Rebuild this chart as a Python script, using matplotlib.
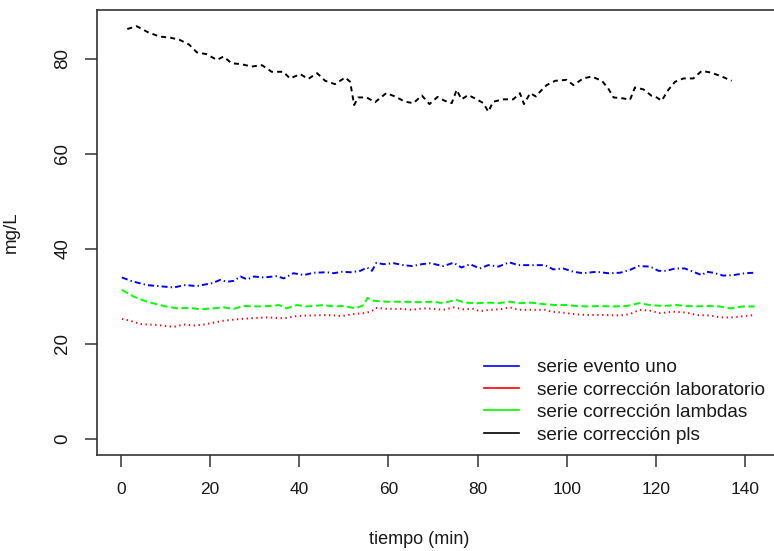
import matplotlib
matplotlib.use("Agg")
import matplotlib.pyplot as plt
from matplotlib.lines import Line2D

# valores (tiempo en min, concentracion en mg/L)
t_uno = [0.2, 2.5, 5.8, 11.8, 14.4, 17, 20.4, 22.3, 23.8, 25.3, 26.8, 28.3, 29.8, 32, 35, 36.5,
         38.7, 41, 43.2, 46.2, 47.7, 49.6, 51.5, 53.7, 55.2, 56.3, 57.3, 58.9, 61.2, 63.4, 65.3,
         67.5, 69.4, 72.3, 74.6, 76.4, 78.3, 80.5, 82.4, 84.7, 87.1, 89.1, 92.5, 95.1, 97, 99.2,
         101.5, 103.7, 106.7, 109.3, 112, 114.2, 116.1, 118.7, 120.6, 122.4, 124.3, 126.5, 128.4,
         130.3, 131.4, 132.9, 135.1, 137.4, 140, 142.2]
uno = [34.0, 33.2, 32.4, 31.9, 32.4, 32.2, 32.8, 33.5, 33.1, 33.3, 34.2, 33.6, 34.2, 34.0, 34.3, 33.8,
       34.9, 34.5, 35.0, 35.1, 34.9, 35.2, 35.1, 35.4, 36.1, 35.4, 37.1, 36.8, 37.0, 36.6, 36.4,
       36.8, 37.0, 36.4, 37.1, 36.1, 36.8, 35.9, 36.6, 36.3, 37.2, 36.6, 36.6, 36.6, 35.7, 35.9,
       35.2, 34.9, 35.2, 34.9, 35.0, 35.6, 36.4, 36.3, 35.4, 35.4, 35.9, 35.9, 35.2,
       34.5, 35.2, 35.0, 34.4, 34.5, 34.9, 35.0]

t_lab = [0.2, 2.1, 4.3, 8.1, 11.8, 14.1, 16.3, 18.6, 20.8, 23, 26, 29, 32.8, 36.5, 39.5, 42.5, 46.2,
         49.6, 52.2, 54.5, 56.3, 57.1, 59.7, 62.7, 65.3, 67.9, 70.2, 72.3, 74.6, 76.8, 79, 80.5,
         82.8, 85, 87.3, 89.1, 91.8, 95.1, 96.6, 99.2, 101.5, 104.5, 108.2, 112, 114.2, 116.3,
         118.7, 121, 123.9, 126.9, 129.2, 132.2, 134.4, 137.4, 140, 142.2]
lab = [25.3, 24.9, 24.2, 24.0, 23.6, 24.1, 23.9, 24.1, 24.5, 24.9, 25.2, 25.4, 25.6, 25.4, 25.9, 26.0, 26.1,
       25.9, 26.3, 26.5, 26.9, 27.6, 27.4, 27.4, 27.2, 27.5, 27.4, 27.2, 27.7, 27.3, 27.4, 26.9,
       27.2, 27.3, 27.7, 27.2, 27.2, 27.2, 26.8, 26.6, 26.3, 26.1, 26.1, 26.0, 26.3, 27.2,
       27.0, 26.5, 26.8, 26.6, 26.1, 26.0, 25.6, 25.6, 25.9, 26.1]

t_lam = [0.2, 2.8, 5.8, 9.6, 12.6, 15.6, 17.8, 20.8, 23, 25.3, 27.5, 30.5, 33.5, 35.4, 37.2, 39.5,
         41.7, 45.5, 47.7, 50, 52.6, 54.5, 55.3, 56.7, 59.7, 63.4, 66.4, 70.1, 72.3, 75.2, 77.2,
         79.8, 82.4, 84.7, 87.3, 89.5, 92.1, 94.8, 97.4, 100, 102.2, 104.5, 107.5, 110.5, 113.5,
         116.3, 118.7, 121.7, 124.7, 126.9, 129.2, 131.4, 134.4, 136.6, 139.6, 142.2]
lam = [31.4, 30.0, 28.9, 28.0, 27.5, 27.6, 27.3, 27.5, 27.7, 27.4, 28.0, 27.9, 28.0, 28.2, 27.5, 28.2,
       27.9, 28.2, 27.9, 28.0, 27.5, 28.2, 29.7, 29.1, 28.9, 28.9, 28.8, 28.9, 28.6, 29.3, 28.7,
       28.6, 28.7, 28.6, 28.9, 28.6, 28.7, 28.4, 28.2, 28.2, 28.0, 27.9, 28.0, 27.9, 28.0,
       28.6, 28.2, 28.0, 28.2, 28.0, 27.9, 28.0, 27.9, 27.5, 27.9, 27.9]

t_pls = [1.4, 3.5, 6.1, 8.7, 11, 13.2, 15.3, 17, 19.2, 21.5, 23, 24.8, 27, 29.3, 31.6, 33.8, 36.4,
         37.9, 40.2, 42, 44, 45.8, 48, 50.3, 51.4, 52.3, 53.2, 55.1, 57, 59.5, 61.5, 63.7, 65.6,
         67.5, 69.2, 71.0, 72.6, 74.2, 75.3, 76.4, 77.9, 79.4, 81.3, 82.4, 83.5, 85.8, 88, 89.5,
         90.4, 91.8, 93.1, 94, 95.5, 97.4, 100, 101.5, 103.7, 105.6, 107.9, 109.3, 110.5, 112.7,
         114.2, 115.3, 117.2, 119.1, 120.2, 121.3, 122.8, 124.3, 126.2, 128.4, 130.3, 132.5,
         134.8, 137]
pls = [86.3, 86.9, 85.6, 84.7, 84.5, 84.0, 83.0, 81.4, 81.0, 79.8, 80.5, 79.1, 78.9, 78.4, 78.7, 77.3, 77.3,
       75.9, 76.8, 75.8, 77.0, 75.4, 74.7, 76.1, 75.2, 70.3, 71.9, 71.9, 70.9, 72.8, 72.1, 71.0, 70.7,
       72.3, 70.5, 72.0, 71.2, 70.7, 73.5, 71.5, 72.4, 71.7, 70.7, 68.9, 71.0, 71.5, 71.5, 72.8,
       70.5, 72.8, 72.1, 73.1, 74.5, 75.4, 75.6, 74.5, 75.9, 76.3, 75.4, 73.8, 71.9, 71.7,
       71.4, 74.0, 73.6, 72.2, 71.9, 71.2, 73.5, 75.2, 75.9, 75.9, 77.5, 77.1,
       76.3, 75.4]

nombres = ["serie evento uno", "serie corrección laboratorio",
           "serie corrección lambdas", "serie corrección pls"]
colores = ["#0000FF", "#FF0000", "#00FF00", "#000000"]
x_ticks = [0, 20, 40, 60, 80, 100, 120, 140]
y_ticks = [0, 20, 40, 60, 80]

fig = plt.figure(figsize=(7.74, 5.51), dpi=100)
ax = fig.add_axes([0.1253, 0.1742, 0.881, 0.8076])

lw = 1.4
ax.plot(t_uno, uno, color=colores[0], lw=lw, linestyle=(0, (3.1, 1.6, 0.7, 1.6)))
ax.plot(t_lab, lab, color=colores[1], lw=lw, linestyle=(0, (0.7, 1.8)))
ax.plot(t_lam, lam, color=colores[2], lw=lw, linestyle=(0, (3.6, 1.8)))
ax.plot(t_pls, pls, color=colores[3], lw=lw, linestyle=(0, (2.6, 2.1)))

ax.set_xlim(-5.4, 147.6)
ax.set_ylim(-3.37, 90.3)

for s in ax.spines.values():
    s.set_color("#333333")
    s.set_linewidth(1.2)

ax.set_xticks(x_ticks)
ax.set_yticks(y_ticks)
ax.set_xticklabels([str(v) for v in x_ticks], family="Liberation Sans", fontsize=12.5)
ax.set_yticklabels([str(v) for v in y_ticks], family="Liberation Sans", fontsize=13.5,
                   rotation=90, va="center")
ax.tick_params(axis="x", length=8.6, width=1.1, color="#333333", pad=10.5, labelcolor="#1a1a1a")
ax.tick_params(axis="y", length=8.6, width=1.1, color="#333333", pad=10, labelcolor="#1a1a1a")

ax.set_xlabel("tiempo (min)", family="Liberation Sans", fontsize=13, color="#1a1a1a")
ax.xaxis.set_label_coords(0.473, -0.171)
ax.set_ylabel("mg/L", family="Liberation Sans", fontsize=13.5, color="#1a1a1a")
ax.yaxis.set_label_coords(-0.113, 0.5)

handles = [Line2D([0], [0], color=c, lw=1.2) for c in colores]
ax.legend(handles, nombres, loc="upper left", bbox_to_anchor=(0.567, 0.216),
          frameon=False, prop={"family": "Liberation Sans", "size": 13.7},
          handlelength=1.85, handletextpad=0.95, labelspacing=0.27,
          borderpad=0, borderaxespad=0, labelcolor="#1a1a1a")

fig.savefig("out.png", dpi=100)
